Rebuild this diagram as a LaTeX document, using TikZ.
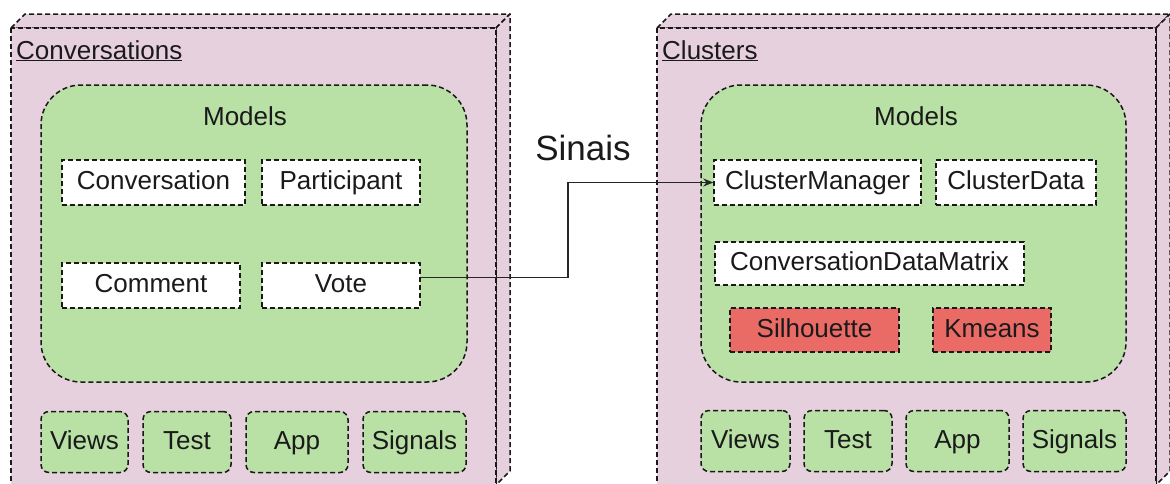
\documentclass[tikz,border=0pt]{standalone}
\usepackage{fontspec}
\setmainfont{Liberation Sans}
\usetikzlibrary{arrows.meta,calc}
\definecolor{pinkfill}{HTML}{E6D0DE}
\definecolor{greenfill}{HTML}{B9E0A5}
\definecolor{redfill}{HTML}{EA6B66}
\definecolor{txt}{HTML}{1A1A1A}
\tikzset{
  dsh/.style={draw=black!90, line width=1.5pt, dash pattern=on 5pt off 3pt},
  cube/.style={dsh, fill=pinkfill, line join=round},
  container/.style={dsh, fill=greenfill, rounded corners=40pt},
  lbltext/.style={font=\fontsize{26}{30}\selectfont, text=txt, text height=19pt, text depth=5pt},
  cls/.style={dsh, fill=white, minimum height=45pt, inner sep=0pt, lbltext},
  algo/.style={cls, fill=redfill},
  module/.style={dsh, fill=greenfill, rounded corners=8pt, minimum height=61pt, inner sep=0pt, lbltext},
  title/.style={font=\fontsize{26}{30}\selectfont, text=txt, inner sep=0pt},
  conn/.style={draw=black!85, line width=1.2pt, -{Stealth[length=10pt,width=8pt]}}
}
\begin{document}
\begin{tikzpicture}[x=1pt,y=-1pt]
\useasboundingbox (0,0) rectangle (1170,483);
% ---- left 3D node ----
\filldraw[cube] (11,28) -- (25,14) -- (510,14) -- (496,28) -- cycle;
\filldraw[cube] (496,28) -- (510,14) -- (510,471) -- (496,485) -- cycle;
\filldraw[cube] (11,28) rectangle (496,485);
\node[title, anchor=base west] (convlbl) at (16,59) {\underline{Conversations}};
\node[container, minimum width=426pt, minimum height=297pt] (models1) at (254,233.5) {};
\node[title] (models1lbl) at (245,116) {Models};
\node[cls, minimum width=183pt] (conv) at (153.5,182.5) {Conversation};
\node[cls, minimum width=158pt] (part) at (341,182.5) {Participant};
\node[cls, minimum width=178pt] (comment) at (151,285.5) {Comment};
\node[cls, minimum width=158pt] (vote) at (341,285.5) {Vote};
\node[module, minimum width=87pt] (views1) at (84.5,442) {Views};
\node[module, minimum width=88pt] (test1) at (187,442) {Test};
\node[module, minimum width=102pt] (app1) at (297,442) {App};
\node[module, minimum width=103pt] (sig1) at (414.5,442) {Signals};
% ---- right 3D node ----
\filldraw[cube] (657,28) -- (671,14) -- (1170,14) -- (1156,28) -- cycle;
\filldraw[cube] (1156,28) -- (1170,14) -- (1170,471) -- (1156,485) -- cycle;
\filldraw[cube] (657,28) rectangle (1156,485);
\node[title, anchor=base west] (clulbl) at (662,59) {\underline{Clusters}};
\node[container, minimum width=425pt, minimum height=297pt] (models2) at (913.5,233.5) {};
\node[title] (models2lbl) at (916,116) {Models};
\node[cls, minimum width=207pt] (cm) at (817.5,182.5) {ClusterManager};
\node[cls, minimum width=160pt] (cd) at (1016,182.5) {ClusterData};
\node[cls, minimum width=309pt, minimum height=43pt] (cdm) at (869.5,263.5) {ConversationDataMatrix};
\node[algo, minimum width=169pt, minimum height=44pt] (sil) at (814.5,330) {Silhouette};
\node[algo, minimum width=118pt, minimum height=44pt] (km) at (992,330) {Kmeans};
\node[module, minimum width=89pt] (views2) at (745.5,441) {Views};
\node[module, minimum width=88pt] (test2) at (848,441) {Test};
\node[module, minimum width=103pt] (app2) at (957.5,441) {App};
\node[module, minimum width=103pt] (sig2) at (1074.5,441) {Signals};
% ---- connector ----
\node[font=\fontsize{35}{40}\selectfont, text=txt, inner sep=0pt] (sinais) at (583,148) {Sinais};
\coordinate (bend) at (568,0);
\coordinate (vstart) at ($(vote.north east)!0.33!(vote.south east)$);
\draw[conn] (vstart) -- (vstart -| bend) |- (cm.west);
\end{tikzpicture}
\end{document}
